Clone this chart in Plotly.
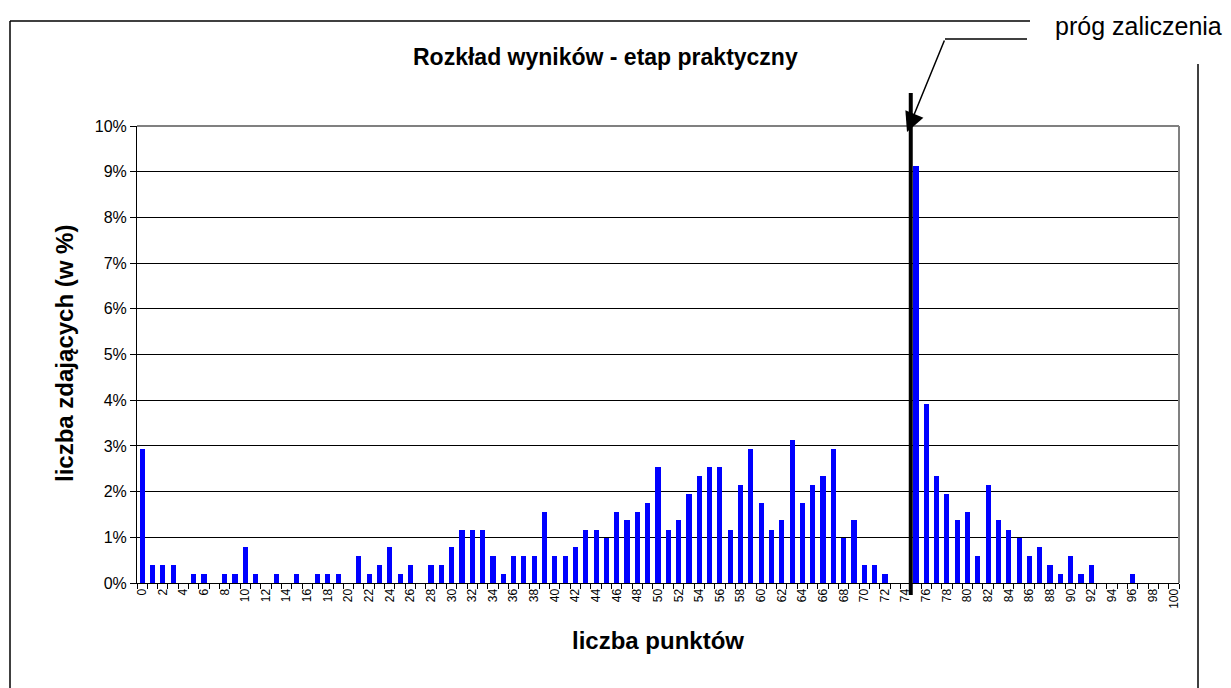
import plotly.graph_objects as go

# ---- data ----
points = list(range(0, 101))
percent = [
    2.93, 0.39, 0.39, 0.39, 0.00, 0.20, 0.20, 0.00, 0.20, 0.20,   # 0-9
    0.78, 0.20, 0.00, 0.20, 0.00, 0.20, 0.00, 0.20, 0.20, 0.20,   # 10-19
    0.00, 0.59, 0.20, 0.39, 0.78, 0.20, 0.39, 0.00, 0.39, 0.39,   # 20-29
    0.78, 1.17, 1.17, 1.17, 0.59, 0.20, 0.59, 0.59, 0.59, 1.56,   # 30-39
    0.59, 0.59, 0.78, 1.17, 1.17, 0.98, 1.56, 1.37, 1.56, 1.76,   # 40-49
    2.54, 1.17, 1.37, 1.95, 2.34, 2.54, 2.54, 1.17, 2.15, 2.93,   # 50-59
    1.76, 1.17, 1.37, 3.13, 1.76, 2.15, 2.34, 2.93, 0.98, 1.37,   # 60-69
    0.39, 0.39, 0.20, 0.00, 0.00, 9.12, 3.91, 2.34, 1.95, 1.37,   # 70-79
    1.56, 0.59, 2.15, 1.37, 1.17, 0.98, 0.59, 0.78, 0.39, 0.20,   # 80-89
    0.59, 0.20, 0.39, 0.00, 0.00, 0.00, 0.20, 0.00, 0.00, 0.00,   # 90-99
    0.00,                                                          # 100
]
tick_values = list(range(0, 101, 2))
tick_labels = [str(v) for v in tick_values]
y_ticks = list(range(0, 11))
threshold = 74.5

title_text = "Rozkład wyników - etap praktyczny"
x_title = "liczba punktów"
y_title = "liczba zdających (w %)"
note_text = "próg zaliczenia"

# ---- layout geometry (reference-image pixels) ----
OFF = 8                      # default page body margin
FW, FH = 1231 - OFF, 688 - OFF
L, R, T, B = 137, 1179, 126, 583


def px(x):
    return (x - L) / (R - L)


def py(y):
    return (B - y) / (B - T)


FONT = "Liberation Sans, Arial, sans-serif"

fig = go.Figure()
fig.add_trace(go.Bar(
    x=points, y=percent, width=0.5,
    marker=dict(color="#0000FF", line=dict(width=0)),
    showlegend=False,
))

fig.update_layout(
    width=FW, height=FH,
    margin=dict(l=L - OFF, r=FW - (R - OFF), t=T - OFF, b=FH - (B - OFF), pad=0),
    paper_bgcolor="white", plot_bgcolor="white",
    font=dict(family=FONT, color="black"),
    bargap=0,
    xaxis=dict(
        range=[-0.5, 100.5], tickmode="array", tickvals=tick_values,
        ticktext=tick_labels, tickangle=-90, ticks="",
        tickfont=dict(size=12, family=FONT), showgrid=False, zeroline=False,
        showline=True, linecolor="black", linewidth=1,
        minor=dict(tickmode="linear", tick0=-0.5, dtick=1, ticks="outside",
                   ticklen=5, tickcolor="black", tickwidth=1, showgrid=False),
    ),
    yaxis=dict(
        range=[0, 10], tickmode="array", tickvals=y_ticks,
        ticktext=[f"{v}%" for v in y_ticks], ticks="outside", ticklen=6,
        tickcolor="black", tickfont=dict(size=16, family=FONT),
        showgrid=True, gridcolor="black", gridwidth=1, zeroline=False,
        showline=True, linecolor="black", linewidth=1,
    ),
)

shapes = []
# gray plot frame (top/right)
shapes.append(dict(type="line", xref="paper", yref="paper", x0=0, x1=1, y0=1, y1=1,
                   line=dict(color="#808080", width=2)))
shapes.append(dict(type="line", xref="paper", yref="paper", x0=1, x1=1, y0=0, y1=1,
                   line=dict(color="#808080", width=2)))
# outer chart border
shapes.append(dict(type="line", xref="paper", yref="paper", x0=px(10), x1=px(1030),
                   y0=py(21), y1=py(21), line=dict(color="black", width=1.5)))
shapes.append(dict(type="line", xref="paper", yref="paper", x0=px(10), x1=px(10),
                   y0=py(21), y1=py(720), line=dict(color="black", width=1.5)))
shapes.append(dict(type="line", xref="paper", yref="paper", x0=px(1198), x1=px(1198),
                   y0=py(64), y1=py(720), line=dict(color="black", width=1.5)))
# threshold line
shapes.append(dict(type="line", xref="x", yref="paper", x0=threshold, x1=threshold,
                   y0=py(93), y1=py(595), line=dict(color="black", width=4)))
# leader line (horizontal part)
shapes.append(dict(type="line", xref="paper", yref="paper", x0=px(945), x1=px(1027),
                   y0=py(39), y1=py(39), line=dict(color="black", width=1.5)))
fig.update_layout(shapes=shapes)

annotations = [
    dict(text=f"<b>{title_text}</b>", xref="paper", yref="paper", x=px(605), y=py(57),
         xanchor="center", yanchor="middle", showarrow=False,
         font=dict(size=23, family=FONT)),
    dict(text=f"<b>{x_title}</b>", xref="paper", yref="paper", x=px(658), y=py(640),
         xanchor="center", yanchor="middle", showarrow=False,
         font=dict(size=24, family=FONT)),
    dict(text=f"<b>{y_title}</b>", xref="paper", yref="paper", x=px(64), y=py(354),
         xanchor="center", yanchor="middle", showarrow=False, textangle=-90,
         font=dict(size=24, family=FONT)),
    dict(text=note_text, xref="paper", yref="paper", x=px(1138), y=py(26),
         xanchor="center", yanchor="middle", showarrow=False,
         bgcolor="white", font=dict(size=25, family=FONT)),
    dict(text="", xref="paper", yref="paper", x=px(907), y=py(132),
         axref="pixel", ayref="pixel", ax=945 - 907, ay=39 - 132,
         showarrow=True, arrowhead=2, arrowsize=2.6, arrowwidth=1.5,
         arrowcolor="black"),
]
fig.update_layout(annotations=annotations)

fig.write_html("out.html")
